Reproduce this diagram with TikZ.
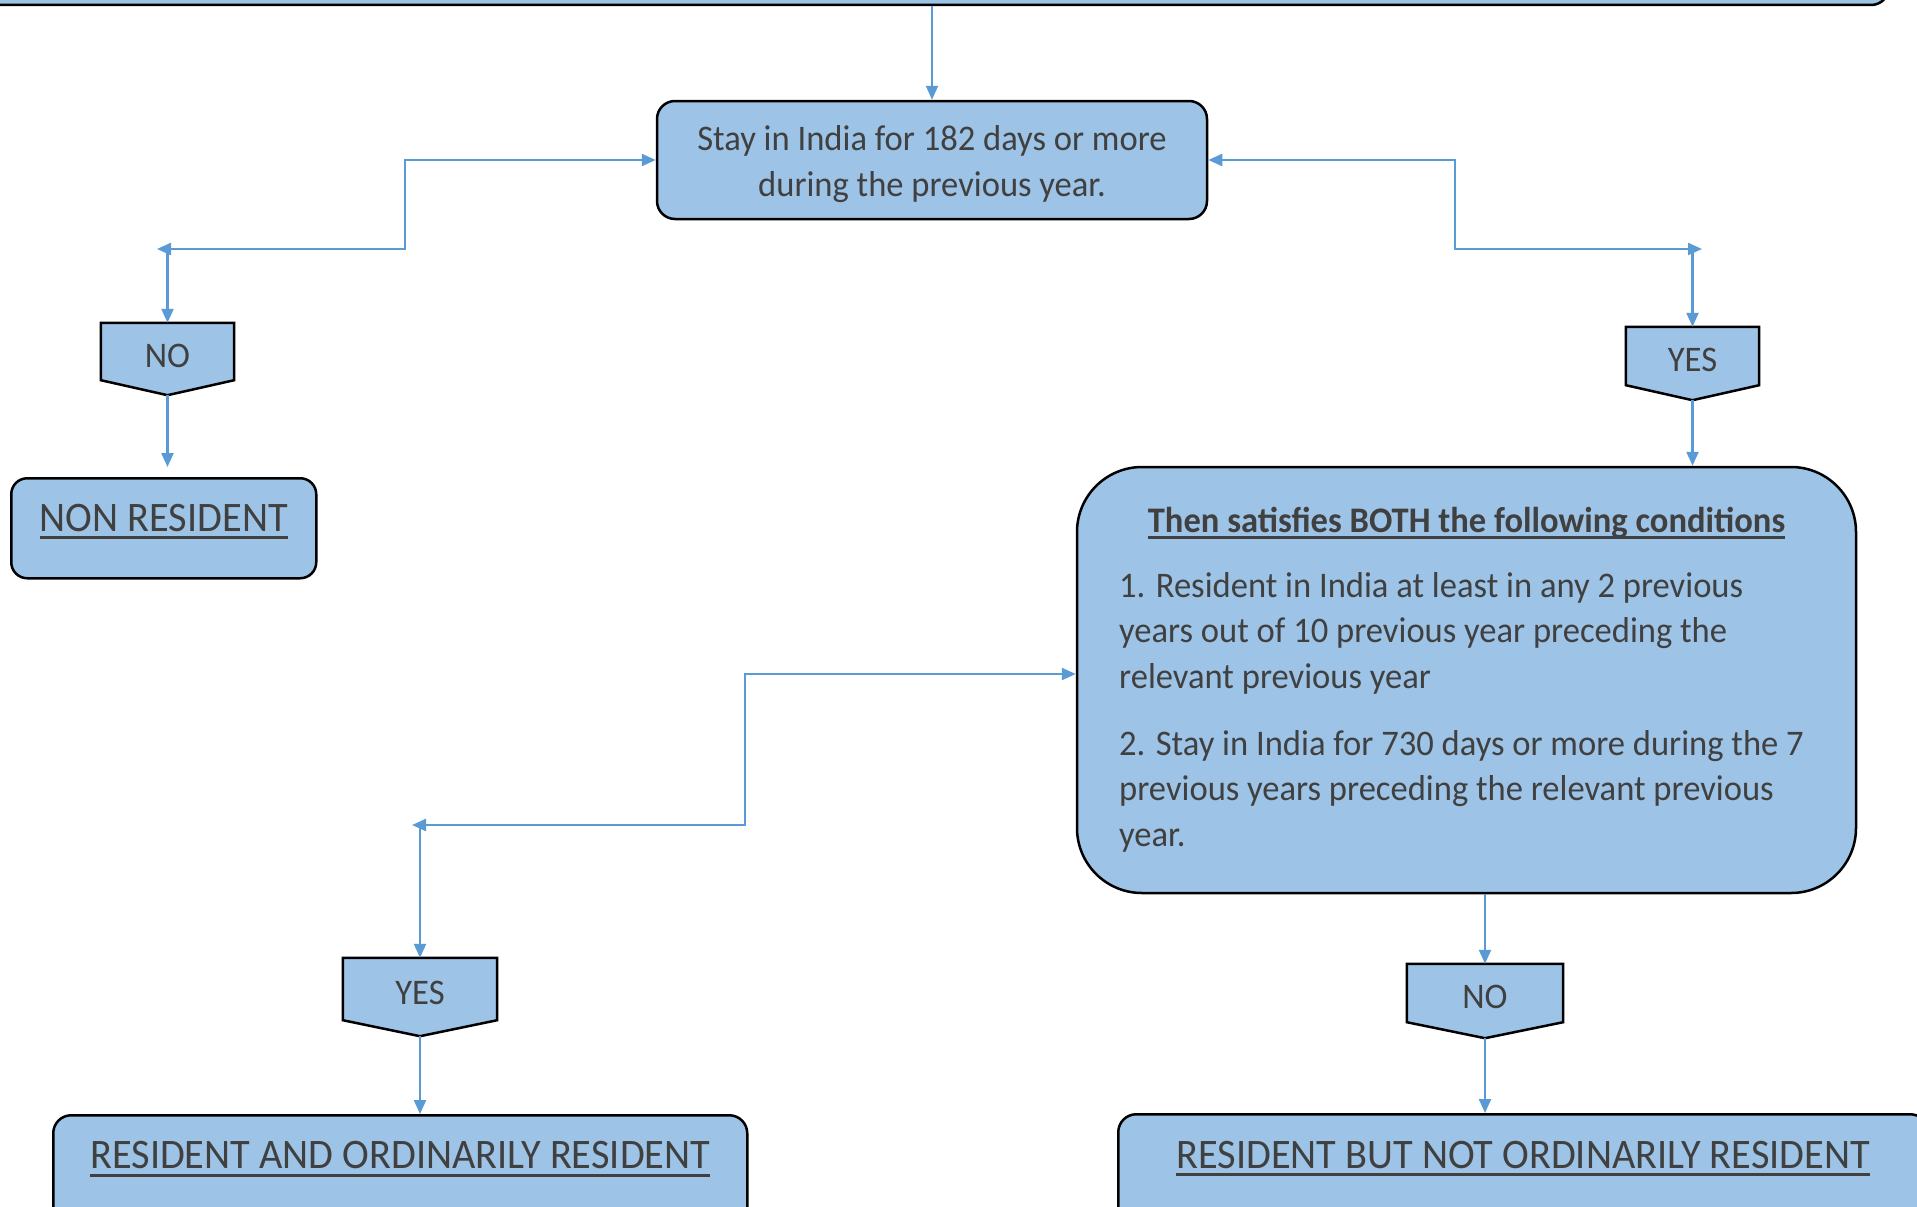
\documentclass[tikz,border=0pt]{standalone}
\usepackage{fontspec}
\setmainfont{Carlito}[FakeStretch=0.96]
\usetikzlibrary{arrows.meta,calc}
\definecolor{boxfill}{HTML}{9DC3E6}
\definecolor{arrowc}{HTML}{5B9BD5}
\definecolor{txt}{HTML}{404040}
\pgfdeclarelayer{bglayer}
\pgfsetlayers{bglayer,main}
\newsavebox\ulbox
\newcommand\myul[2]{\sbox\ulbox{#2}\rlap{\rule[#1]{\wd\ulbox}{3pt}}\usebox\ulbox}
\newcommand\drawsig[2]{%
  \begin{pgfonlayer}{bglayer}
    \path[sigfill] (#1.north west) -- (#1.north east) -- (#1.south east)
      -- ($(#1.south)+(0,#2)$) -- (#1.south west) -- cycle;
  \end{pgfonlayer}
  \coordinate (#1tip) at ($(#1.south)+(0,#2)$);}
\begin{document}
\begin{tikzpicture}[x=1pt,y=-1pt,
  box/.style={draw=black, line width=2.5pt, fill=boxfill, rounded corners=18pt, text=txt, inner sep=0pt},
  sig/.style={rectangle, inner sep=0pt, text=txt, text height=31pt, text depth=0pt,
              font=\fontsize{36}{40}\selectfont},
  sigfill/.style={draw=black, line width=2.5pt, fill=boxfill, line join=miter},
  conn/.style={draw=arrowc, line width=2.3pt, -{Triangle[length=14pt,width=12pt]}},
  conn2/.style={draw=arrowc, line width=2.3pt, {Triangle[length=14pt,width=12pt]}-{Triangle[length=14pt,width=12pt]}},
  lbl/.style={font=\fontsize{42}{50}\selectfont}]
\useasboundingbox (0,0) rectangle (1917,1207);
\clip (0,0) rectangle (1917,1207);
\begin{pgfonlayer}{bglayer}
\fill[white] (0,0) rectangle (1917,1207);
\end{pgfonlayer}

% top (cut) box
\node[box, minimum width=1919pt, minimum height=205pt] (top) at (929.5,-97.5) {};

% question box
\node[box, minimum width=550pt, minimum height=118pt, align=center,
      font=\fontsize{36}{46}\selectfont] (A) at (932,160)
  {\rule{0pt}{34pt}Stay in India for 182 days or more\\during the previous year.};

% NO / YES signals (upper)
\node[sig, minimum width=133pt, minimum height=57pt] (NO1) at (167.5,351.5) {NO};
\drawsig{NO1}{15}
\node[sig, minimum width=133pt, minimum height=58pt] (YES1) at (1692.5,356) {YES};
\drawsig{YES1}{15}

% non resident
\node[box, lbl, anchor=north west, minimum width=305pt, text height=53pt,
      text depth=47pt, rounded corners=16pt] (NR) at (10,477) {\myul{-8pt}{NON RESIDENT}};

% conditions box
\node[box, rounded corners=65pt, minimum width=779pt, minimum height=426pt] (B) at (1466.5,680) {};
\node[anchor=base, text=txt, inner sep=0pt, font=\fontsize{36}{44}\selectfont\bfseries] (Bh)
  at (1466.5,532) {\myul{-6.5pt}{Then satisfies BOTH the following conditions}};
\node[anchor=north west, align=left, text=txt, inner sep=0pt,
      font=\fontsize{36}{45.5}\selectfont] (Bb) at (1119,567)
  {\rule{0pt}{30pt}1. Resident in India at least in any 2 previous\\
   years out of 10 previous year preceding the\\
   relevant previous year\\[21.5pt]
   2. Stay in India for 730 days or more during the 7\\
   previous years preceding the relevant previous\\
   year.};

% lower signals
\node[sig, minimum width=154pt, minimum height=62pt] (YES2) at (420,989) {YES};
\drawsig{YES2}{16}
\node[sig, minimum width=156pt, minimum height=58pt] (NO2) at (1485,993) {NO};
\drawsig{NO2}{16}

% result boxes
\node[box, lbl, anchor=north west, minimum width=694pt, text height=53pt,
      text depth=100pt] (C) at (52,1114) {\myul{-9pt}{RESIDENT AND ORDINARILY RESIDENT}};
\node[box, lbl, anchor=north west, minimum width=810pt, text height=54pt,
      text depth=100pt] (D) at (1117,1113) {\myul{-8pt}{RESIDENT BUT NOT ORDINARILY RESIDENT}};

% connectors
\draw[conn] (top.south -| A.north) -- (A.north);
\coordinate (L1) at (157,249);
\draw[conn2] (A.west) -- ++(-251,0) |- (L1);
\draw[conn] (L1 -| NO1) -- (NO1.north);
\coordinate (R1) at (1702,249);
\draw[conn2] (A.east) -- ++(247,0) |- (R1);
\draw[conn] (R1 -| YES1) -- (YES1.north);
\draw[conn, shorten >=10pt] (NO1tip) -- (NO1tip |- NR.north);
\draw[conn] (YES1tip) -- (YES1tip |- B.north);
\coordinate (L2) at (412,825);
\draw[conn2] ([yshift=6pt]B.west) -- ++(-331,0) |- (L2);
\draw[conn] (L2 -| YES2) -- (YES2.north);
\draw[conn] (YES2tip) -- (YES2tip |- C.north);
\draw[conn] (B.south -| NO2) -- (NO2.north);
\draw[conn] (NO2tip) -- (NO2tip |- D.north);
\end{tikzpicture}
\end{document}
